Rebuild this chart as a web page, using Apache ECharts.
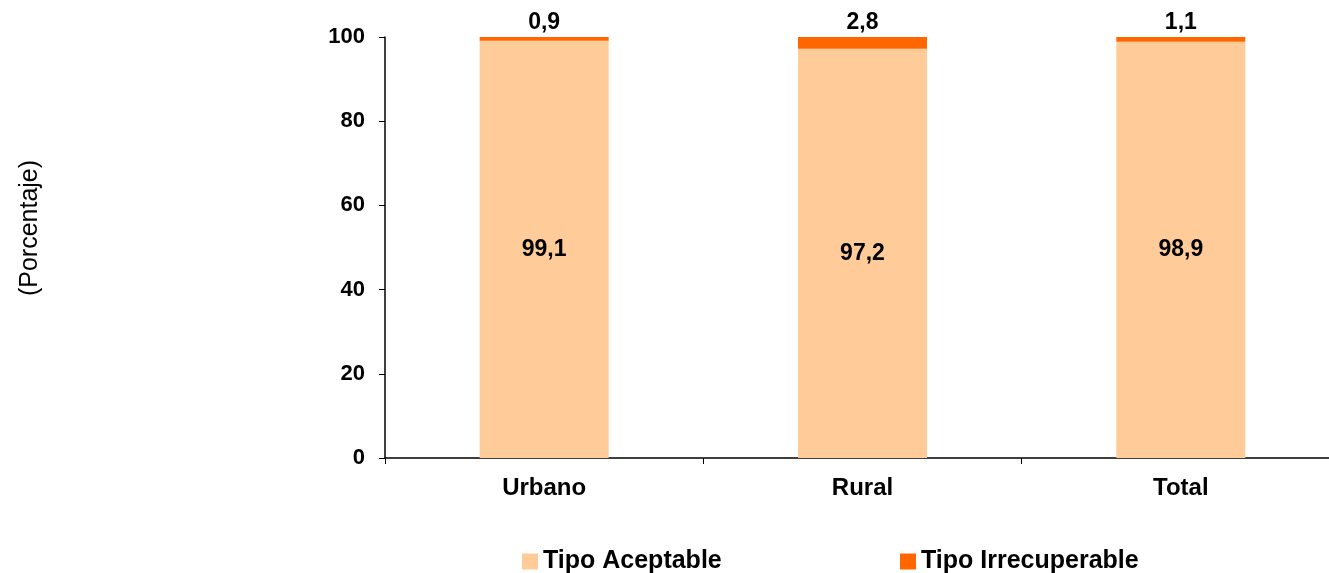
<!DOCTYPE html>
<html><head><meta charset="utf-8">
<script src="https://cdn.jsdelivr.net/npm/echarts@6/dist/echarts.min.js"></script>
<style>html,body{margin:0;padding:0;background:#fff;overflow:hidden}#c{width:1345px;height:573px}</style>
</head><body><div id="c"></div>
<script>
const categories = ['Urbano', 'Rural', 'Total'];
const aceptable = [99.1, 97.2, 98.9];
const irrecuperable = [0.9, 2.8, 1.1];
const yTicks = [0, 20, 40, 60, 80, 100];
const seriesNames = ['Tipo Aceptable', 'Tipo Irrecuperable'];
const yAxisTitle = '(Porcentaje)';

const fmt = p => String(p.value).replace('.', ',');
const FONT = 'Liberation Sans, Arial, sans-serif';
const chart = echarts.init(document.getElementById('c'));
chart.setOption({
  animation: false,
  textStyle: { fontFamily: FONT },
  grid: { left: 385, top: 37, width: 955, height: 421 },
  graphic: [{
    type: 'text', x: 30, y: 228, rotation: Math.PI / 2,
    style: { text: yAxisTitle, fontFamily: FONT, fontSize: 25, fill: '#000', align: 'center', verticalAlign: 'middle' }
  }],
  legend: [
    { data: [seriesNames[0]], icon: 'rect', left: 517, top: 544, itemWidth: 16, itemHeight: 16, itemGap: 6,
      textStyle: { fontFamily: FONT, fontWeight: 'bold', fontSize: 25, color: '#000' } },
    { data: [seriesNames[1]], icon: 'rect', left: 895, top: 544, itemWidth: 16, itemHeight: 16, itemGap: 6,
      textStyle: { fontFamily: FONT, fontWeight: 'bold', fontSize: 25, color: '#000' } }
  ],
  xAxis: {
    type: 'category', data: categories,
    axisLine: { lineStyle: { color: '#000', width: 1.5 } },
    axisTick: { show: true, length: 6, lineStyle: { color: '#000' } },
    axisLabel: { fontFamily: FONT, fontWeight: 'bold', fontSize: 24, color: '#000', margin: 18 }
  },
  yAxis: {
    type: 'value', min: yTicks[0], max: yTicks[yTicks.length - 1], interval: 20,
    splitLine: { show: false },
    axisLine: { show: true, lineStyle: { color: '#000', width: 1.5 } },
    axisTick: { show: true, length: 6, lineStyle: { color: '#000' } },
    axisLabel: { fontFamily: FONT, fontWeight: 'bold', fontSize: 22, color: '#000', margin: 20 }
  },
  series: [
    { name: seriesNames[0], type: 'bar', stack: 's', data: aceptable, barWidth: 129,
      itemStyle: { color: '#FFCC99' },
      label: { show: true, position: 'inside', formatter: fmt, fontFamily: FONT, fontWeight: 'bold', fontSize: 23, color: '#000' } },
    { name: seriesNames[1], type: 'bar', stack: 's', data: irrecuperable, barWidth: 129,
      itemStyle: { color: '#FF6600' },
      label: { show: true, position: 'top', distance: 3, formatter: fmt, fontFamily: FONT, fontWeight: 'bold', fontSize: 23, color: '#000' } }
  ]
});
</script></body></html>
